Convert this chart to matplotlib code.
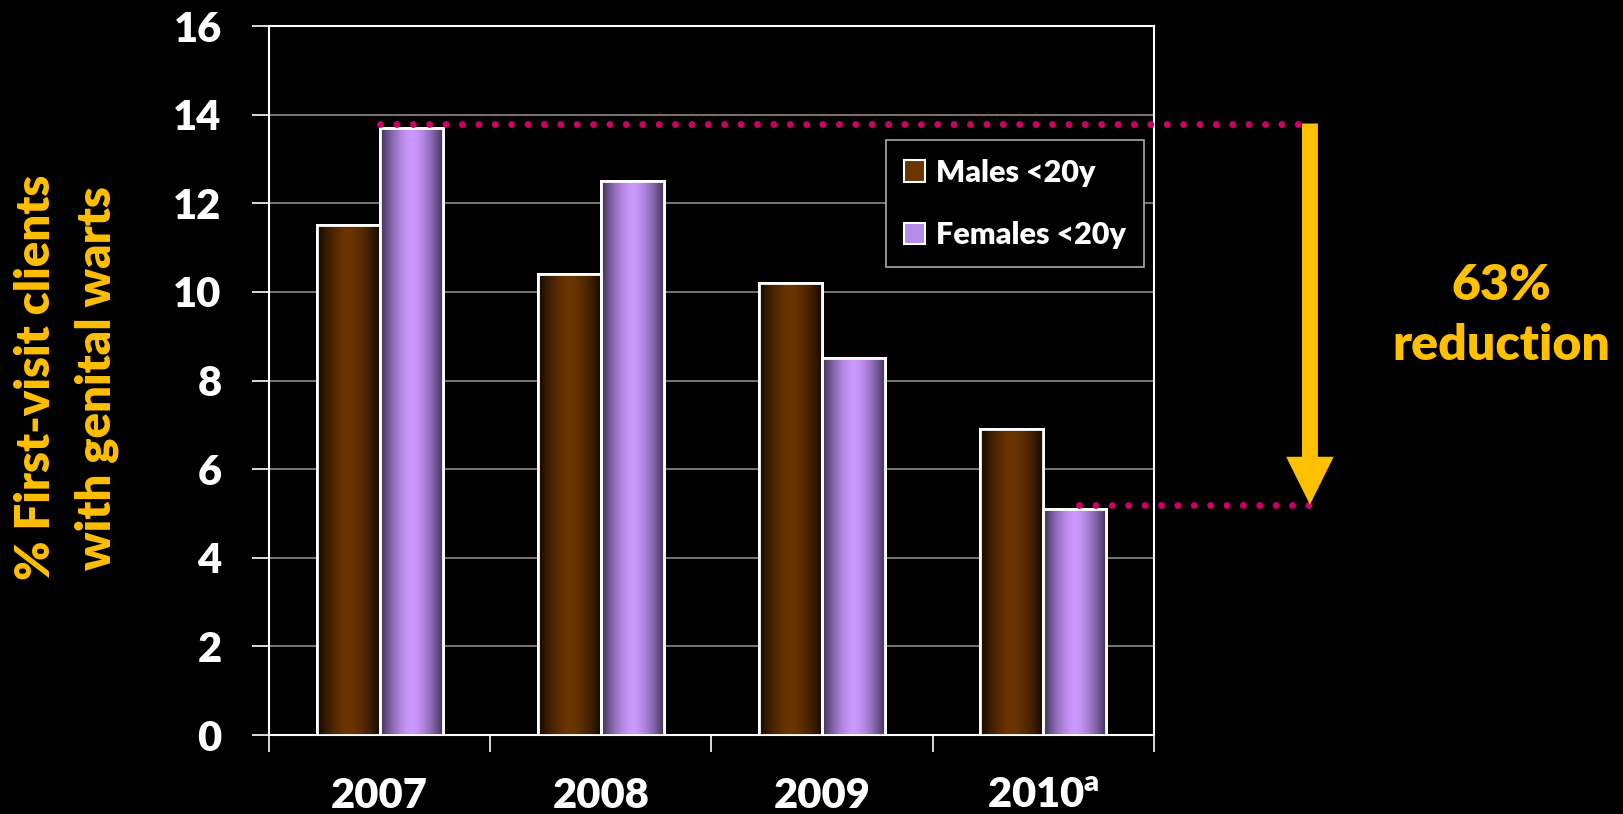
import matplotlib
matplotlib.use("Agg")
import matplotlib.pyplot as plt
import numpy as np
from matplotlib.colors import to_rgb
from matplotlib.patches import FancyArrow, Patch

plt.rcParams['font.family'] = ['Lato', 'DejaVu Sans']
plt.rcParams['font.weight'] = 'heavy'
plt.rcParams['mathtext.fontset'] = 'custom'
plt.rcParams['mathtext.rm'] = 'Lato'

# data
years = ['2007', '2008', '2009', '2010$^{\\mathrm{a}}$']
males = [11.5, 10.4, 10.2, 6.9]
females = [13.7, 12.5, 8.5, 5.1]
start_level = 13.8
end_level = 5.2

GOLD = '#FFC000'
DOT = '#CC0066'
male_c = ('#120800', '#6B3500')
female_c = ('#3A2E50', '#CC99FF')


def gradient(edge, center, n=256):
    e = np.array(to_rgb(edge))
    c = np.array(to_rgb(center))
    t = np.linspace(-1, 1, n)
    w = (1 - np.abs(t) ** 1.6)[:, None]
    return (e + (c - e) * w)[None, :, :]


fig = plt.figure(figsize=(16.23, 8.14), dpi=100, facecolor='black')
ax = fig.add_axes([0.1657, 0.097, 0.5453, 0.871])
ax.set_facecolor('black')

x = np.arange(len(years))
bw = 0.285
b1 = ax.bar(x - bw / 2, males, bw, color=male_c[1], edgecolor='white', lw=2, zorder=3)
b2 = ax.bar(x + bw / 2, females, bw, color=female_c[1], edgecolor='white', lw=2, zorder=3)

for bars, cols in ((b1, male_c), (b2, female_c)):
    img = gradient(*cols)
    for b in bars:
        x0, h = b.get_x(), b.get_height()
        im = ax.imshow(img, extent=[x0, x0 + b.get_width(), 0, h], aspect='auto', zorder=3.5)
        im.set_clip_path(b)
    ax.bar([b.get_x() + b.get_width() / 2 for b in bars], [b.get_height() for b in bars], bw,
           fill=False, edgecolor='white', lw=2, zorder=4)

ax.set_xlim(-0.5, 3.5)
ax.set_ylim(0, 16)
ax.set_yticks(range(0, 17, 2))
ax.yaxis.grid(True, color='#8a8a8a', lw=1.2)
ax.set_axisbelow(True)
for s in ax.spines.values():
    s.set_color('white')
    s.set_linewidth(1.5)

ax.set_xticks(x)
ax.set_xticklabels(years)
ax.set_xticks(np.arange(-0.5, 4, 1), minor=True)
ax.tick_params(axis='x', which='major', length=0, pad=30, labelsize=30, labelcolor='white')
ax.tick_params(axis='x', which='minor', length=12, color='white', width=1.2)
ax.tick_params(axis='y', length=12, color='white', width=1.2, labelsize=30, labelcolor='white', pad=22)

# reduction markers
ax.plot([0.0, 4.2], [start_level, start_level], color=DOT, lw=5,
        ls=(0, (0.01, 2.35)), dash_capstyle='round', clip_on=False, zorder=5)
ax.plot([3.16, 4.2], [end_level, end_level], color=DOT, lw=5,
        ls=(0, (0.01, 2.35)), dash_capstyle='round', clip_on=False, zorder=5)
ax.add_patch(FancyArrow(4.205, start_level, 0, end_level - start_level, width=0.072,
                        head_width=0.215, head_length=1.08, length_includes_head=True,
                        color=GOLD, lw=0, clip_on=False, zorder=6))

leg = ax.legend([Patch(facecolor=male_c[1], edgecolor='white', lw=1.5),
                 Patch(facecolor='#B58AE8', edgecolor='white', lw=1.5)],
                ['Males <20y', 'Females <20y'],
                loc='upper right', bbox_to_anchor=(0.989, 0.839), borderaxespad=0,
                fontsize=22, labelcolor='white', facecolor='black', edgecolor='#aaaaaa',
                fancybox=False, framealpha=1, labelspacing=1.13, handlelength=0.7,
                handleheight=0.7, handletextpad=0.35, borderpad=0.6)
leg.get_frame().set_linewidth(1.2)
leg.set_zorder(7)

fig.text(0.041, 0.536, '% First-visit clients\nwith genital warts', color=GOLD,
         fontsize=34, rotation=90, ha='center', va='center', linespacing=1.45)
fig.text(0.925, 0.612, '63%\nreduction', color=GOLD, fontsize=36,
         ha='center', va='center', linespacing=1.4)

fig.savefig('out.png', dpi=100, facecolor='black')
